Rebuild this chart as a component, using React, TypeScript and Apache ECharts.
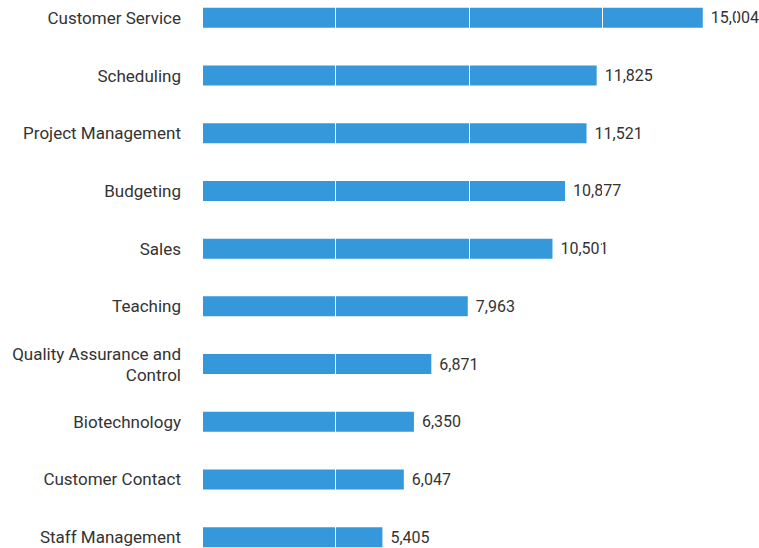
import React, { useEffect, useRef } from "react";
import * as echarts from "echarts";

const categories = [
  "Customer Service",
  "Scheduling",
  "Project Management",
  "Budgeting",
  "Sales",
  "Teaching",
  "Quality Assurance and Control",
  "Biotechnology",
  "Customer Contact",
  "Staff Management",
];
const values = [15004, 11825, 11521, 10877, 10501, 7963, 6871, 6350, 6047, 5405];

const fmt = (v: number) => v.toLocaleString("en-US");

const TOP_OFFSET = 11.3;
const BOTTOM_OFFSET = 17.3;

export default function App() {
  const ref = useRef<HTMLDivElement>(null);
  useEffect(() => {
    document.body.style.margin = "0";
    const chart = echarts.init(ref.current!, null, { renderer: "svg" });
    chart.setOption({
      animation: false,
      grid: { left: 202, right: 23, top: 0, bottom: 0, containLabel: false },
      xAxis: {
        type: "value",
        min: 0,
        max: 16000,
        interval: 4000,
        z: 5,
        axisLabel: { show: false },
        axisLine: { show: false },
        axisTick: { show: false },
        splitLine: { show: true, lineStyle: { color: "#ffffff", width: 1 } },
      },
      yAxis: {
        type: "category",
        inverse: true,
        data: categories,
        axisLine: { show: false },
        axisTick: { show: false },
        axisLabel: {
          margin: 21,
          color: "#333333",
          fontFamily: "Roboto",
          fontSize: 17,
          lineHeight: 21,
          formatter: (v: string) => (v === "Quality Assurance and Control" ? "Quality Assurance and\nControl" : v),
        },
      },
      series: [
        {
          type: "bar",
          data: values,
          barWidth: 20,
          itemStyle: { color: "#3498db" },
          label: {
            show: true,
            position: "right",
            distance: 8,
            color: "#333333",
            fontFamily: "Roboto",
            fontSize: 16,
            formatter: (p: any) => fmt(p.value),
          },
        },
      ],
    });
    return () => chart.dispose();
  }, []);
  return (
    <div style={{ width: 759, height: 548, overflow: "hidden", position: "relative" }}>
      <div
        ref={ref}
        style={{
          position: "absolute",
          left: 0,
          top: -TOP_OFFSET,
          width: 759,
          height: 548 + TOP_OFFSET + BOTTOM_OFFSET,
        }}
      />
    </div>
  );
}
